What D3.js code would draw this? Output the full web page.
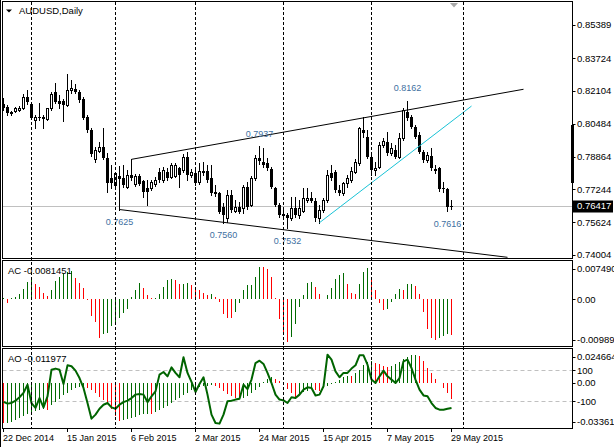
<!DOCTYPE html>
<html lang="en">
<head>
    <meta charset="UTF-8"/>
    <title>AUDUSD,Daily</title>
    <script src="https://d3js.org/d3.v7.min.js"></script>
    <style>
        body { margin: 0; background: #fff; }
        svg { display: block; font-family: "Liberation Sans", Arial, sans-serif; }
    </style>
</head>
<body>
<div id="chart"></div>

<script>

    // daily candles [open, high, low, close], 22 Dec 2014 .. 29 May 2015
    const ohlc = [
        [0.8144, 0.8174, 0.8116, 0.8125], [0.8133, 0.8141, 0.8092, 0.8100], [0.8108, 0.8112, 0.8092, 0.8097],
        [0.8113, 0.8133, 0.8105, 0.8125], [0.8118, 0.8135, 0.8112, 0.8128], [0.8125, 0.8197, 0.8120, 0.8180],
        [0.8180, 0.8215, 0.8145, 0.8158], [0.8144, 0.8150, 0.8070, 0.8078], [0.8068, 0.8090, 0.8030, 0.8082],
        [0.8082, 0.8151, 0.8066, 0.8075], [0.8082, 0.8090, 0.8026, 0.8070], [0.8070, 0.8128, 0.8065, 0.8125],
        [0.8125, 0.8207, 0.8118, 0.8196], [0.8207, 0.8248, 0.8150, 0.8158], [0.8161, 0.8191, 0.8125, 0.8145],
        [0.8161, 0.8170, 0.8062, 0.8141], [0.8141, 0.8293, 0.8138, 0.8215], [0.8215, 0.8265, 0.8200, 0.8225],
        [0.8220, 0.8243, 0.8200, 0.8207], [0.8207, 0.8215, 0.8158, 0.8166], [0.8171, 0.8180, 0.8070, 0.8079],
        [0.8083, 0.8090, 0.8010, 0.8017], [0.8020, 0.8026, 0.7890, 0.7900], [0.7875, 0.7935, 0.7861, 0.7919],
        [0.7914, 0.7960, 0.7909, 0.7935], [0.7935, 0.8026, 0.7873, 0.7880], [0.7878, 0.7902, 0.7713, 0.7754],
        [0.7779, 0.7845, 0.7730, 0.7754], [0.7746, 0.7812, 0.7740, 0.7804], [0.7790, 0.7838, 0.7625, 0.7775],
        [0.7779, 0.7845, 0.7738, 0.7746], [0.7738, 0.7820, 0.7730, 0.7796], [0.7796, 0.7873, 0.7771, 0.7783],
        [0.7750, 0.7800, 0.7740, 0.7791], [0.7791, 0.7800, 0.7745, 0.7750], [0.7766, 0.7771, 0.7689, 0.7710],
        [0.7733, 0.7770, 0.7648, 0.7710], [0.7730, 0.7770, 0.7720, 0.7763], [0.7749, 0.7785, 0.7740, 0.7771],
        [0.7812, 0.7828, 0.7763, 0.7771], [0.7771, 0.7837, 0.7763, 0.7820], [0.7812, 0.7828, 0.7770, 0.7779],
        [0.7787, 0.7853, 0.7779, 0.7845], [0.7791, 0.7853, 0.7785, 0.7845], [0.7828, 0.7837, 0.7738, 0.7796],
        [0.7820, 0.7898, 0.7812, 0.7886], [0.7886, 0.7907, 0.7771, 0.7796], [0.7796, 0.7825, 0.7788, 0.7809],
        [0.7804, 0.7820, 0.7746, 0.7754], [0.7759, 0.7853, 0.7750, 0.7815], [0.7815, 0.7861, 0.7796, 0.7804],
        [0.7815, 0.7845, 0.7763, 0.7771], [0.7779, 0.7845, 0.7697, 0.7705], [0.7713, 0.7746, 0.7692, 0.7700],
        [0.7705, 0.7713, 0.7606, 0.7614], [0.7639, 0.7656, 0.7560, 0.7598], [0.7582, 0.7721, 0.7565, 0.7697],
        [0.7697, 0.7721, 0.7614, 0.7622], [0.7619, 0.7672, 0.7614, 0.7639], [0.7636, 0.7664, 0.7606, 0.7614],
        [0.7631, 0.7746, 0.7610, 0.7738], [0.7738, 0.7763, 0.7630, 0.7639], [0.7647, 0.7790, 0.7640, 0.7779],
        [0.7779, 0.7894, 0.7771, 0.7878], [0.7878, 0.7937, 0.7850, 0.7866], [0.7861, 0.7927, 0.7837, 0.7845],
        [0.7853, 0.7878, 0.7820, 0.7828], [0.7825, 0.7837, 0.7730, 0.7738], [0.7730, 0.7738, 0.7640, 0.7647],
        [0.7647, 0.7656, 0.7590, 0.7598], [0.7602, 0.7639, 0.7582, 0.7594], [0.7598, 0.7610, 0.7532, 0.7582],
        [0.7582, 0.7689, 0.7574, 0.7631], [0.7631, 0.7689, 0.7590, 0.7598], [0.7598, 0.7672, 0.7582, 0.7631],
        [0.7618, 0.7730, 0.7614, 0.7680], [0.7672, 0.7730, 0.7664, 0.7684], [0.7684, 0.7713, 0.7660, 0.7667],
        [0.7666, 0.7680, 0.7569, 0.7582], [0.7582, 0.7647, 0.7560, 0.7623], [0.7623, 0.7680, 0.7615, 0.7672],
        [0.7672, 0.7820, 0.7664, 0.7796], [0.7804, 0.7845, 0.7771, 0.7779], [0.7812, 0.7820, 0.7713, 0.7722],
        [0.7722, 0.7746, 0.7697, 0.7705], [0.7705, 0.7763, 0.7697, 0.7754], [0.7754, 0.7796, 0.7738, 0.7779],
        [0.7771, 0.7837, 0.7763, 0.7815], [0.7812, 0.7873, 0.7804, 0.7861], [0.7853, 0.8034, 0.7845, 0.8026],
        [0.8018, 0.8080, 0.7985, 0.8001], [0.7985, 0.8018, 0.7878, 0.7886], [0.7886, 0.7894, 0.7796, 0.7820],
        [0.7820, 0.7861, 0.7796, 0.7832], [0.7837, 0.7960, 0.7828, 0.7944], [0.7944, 0.7977, 0.7935, 0.7963],
        [0.7960, 0.8010, 0.7894, 0.7902], [0.7902, 0.7952, 0.7894, 0.7930], [0.7919, 0.7944, 0.7878, 0.7886],
        [0.7882, 0.8001, 0.7878, 0.7977], [0.7977, 0.8125, 0.7968, 0.8116], [0.8108, 0.8162, 0.8067, 0.8075],
        [0.8083, 0.8092, 0.8026, 0.8034], [0.8034, 0.8042, 0.7977, 0.7985], [0.7993, 0.8010, 0.7902, 0.7907],
        [0.7907, 0.7919, 0.7861, 0.7870], [0.7870, 0.7911, 0.7861, 0.7894], [0.7890, 0.7927, 0.7820, 0.7828],
        [0.7825, 0.7845, 0.7804, 0.7815], [0.7828, 0.7837, 0.7717, 0.7726], [0.7733, 0.7763, 0.7713, 0.7726],
        [0.7726, 0.7730, 0.7616, 0.7639], [0.7644, 0.7672, 0.7630, 0.76417]
    ];

    // Accelerator Oscillator
    const acValues = [
        0.00038, -0.00092, 0.00023, 0.00046, 0.00115, 0.00246, 0.00408, 0.00500, 0.00362, 0.00285,
        0.00138, 0.00069, 0.00215, 0.00423, 0.00515, 0.00592, 0.00631, 0.00654, 0.00485, 0.00385,
        0.00269, -0.00015, -0.00385, -0.00523, -0.00885, -0.00808, -0.00769, -0.00615, -0.00523, -0.00423,
        -0.00308, -0.00215, 0.00062, 0.00215, 0.00385, 0.00254, 0.00100, 0.00023, 0.00038, 0.00115,
        0.00292, 0.00446, 0.00477, 0.00446, 0.00346, 0.00362, 0.00369, 0.00323, 0.00215, 0.00208,
        0.00154, 0.00100, 0.00131, 0.00054, -0.00054, -0.00331, -0.00423, -0.00431, -0.00285, -0.00077,
        0.00208, 0.00323, 0.00331, 0.00523, 0.00749, 0.00746, 0.00708, 0.00523, 0.00038, -0.00462,
        -0.00808, -0.00989, -0.00862, -0.00577, -0.00177, 0.00092, 0.00385, 0.00408, 0.00292, 0.00131,
        0.00015, 0.00092, 0.00269, 0.00477, 0.00562, 0.00600, 0.00362, 0.00154, 0.00115, 0.00346,
        0.00638, 0.00731, 0.00523, 0.00208, -0.00077, -0.00254, -0.00231, -0.00054, 0.00131, 0.00231,
        0.00215, 0.00346, 0.00354, 0.00308, 0.00131, -0.00285, -0.00692, -0.00885, -0.00946, -0.00885,
        -0.00846, -0.00800, -0.00815
    ];

    // Awesome Oscillator
    const aoValues = [
        -0.03078, -0.03028, -0.02952, -0.02826, -0.02675, -0.02523, -0.02397, -0.02271, -0.02170, -0.02094,
        -0.02019, -0.02069, -0.01716, -0.01464, -0.01211, -0.00959, -0.00757, -0.00555, -0.00429, -0.00328,
        -0.00303, -0.00379, -0.00555, -0.00807, -0.01060, -0.01312, -0.01640, -0.02019, -0.02523, -0.02902,
        -0.02851, -0.02776, -0.02675, -0.02574, -0.02473, -0.02397, -0.02347, -0.02372, -0.02195, -0.02094,
        -0.01943, -0.01766, -0.01564, -0.01337, -0.01136, -0.00959, -0.00757, -0.00580, -0.00429, -0.00328,
        -0.00252, -0.00227, -0.00202, -0.00252, -0.00379, -0.00631, -0.00833, -0.01009, -0.01161, -0.01262,
        -0.01186, -0.01009, -0.00807, -0.00555, -0.00303, 0.00050, 0.00252, 0.00404, 0.00303, 0.00101,
        -0.00202, -0.00505, -0.00807, -0.01060, -0.00959, -0.00707, -0.00606, -0.00505, -0.00555, -0.00606,
        -0.00404, -0.00252, -0.00101, 0.00076, 0.00202, 0.00404, 0.00505, 0.00479, 0.00707, 0.00959,
        0.01312, 0.01590, 0.01640, 0.01514, 0.01388, 0.01262, 0.01186, 0.01262, 0.01388, 0.01590,
        0.01766, 0.01943, 0.02069, 0.02094, 0.01993, 0.01640, 0.01136, 0.00757, 0.00303, 0.00000,
        -0.00379, -0.00757, -0.01198
    ];

    // CCI drawn in the AO window
    const cciValues = [
        -104, -115, -111, -96, -74, -46, 7, -111, -143, -79,
        -139, -68, 104, 111, 104, 12, 132, 126, 98, 50,
        -14, -111, -212, -186, -148, -122, -111, -139, -148, -122,
        -105, -96, -79, -57, -53, -57, -105, -68, -36, 72,
        89, 61, 119, 83, 55, 184, 83, 25, -40, 12,
        55, -57, -186, -240, -244, -186, -100, -96, -89, -83,
        7, -21, 40, 147, 162, 141, 83, 18, -57, -89,
        -94, -111, -74, -79, -57, -25, -10, -14, -62, -57,
        -3, 201, 169, 93, 55, 83, 83, 111, 132, 197,
        197, 136, 40, 18, 61, 98, 61, 40, 18, 50,
        158, 169, 115, 40, -25, -62, -68, -111, -143, -154,
        -154, -148, -143
    ];

    const dateLabels = ["22 Dec 2014", "15 Jan 2015", "6 Feb 2015", "2 Mar 2015",
        "24 Mar 2015", "15 Apr 2015", "7 May 2015", "29 May 2015"];
    const dateLabelBars = [0, 16, 32, 48, 64, 80, 96, 112];

    // first bar of each month (period separators)
    const separatorBars = [7, 28, 48, 70, 92, 115];

    const priceTicks = [0.85389, 0.83724, 0.82104, 0.80484, 0.78864, 0.77244, 0.75624, 0.74004];
    const lastPrice = 0.76417;

    const acTicks = [0.00749, 0, -0.00989];
    const acTickLabels = ["0.007490", "0.00", "-0.00989"];
    const aoTicks = [0.024664, 0, -0.03361];
    const aoTickLabels = ["0.024664", "0.00", "-0.03361"];
    const cciLevels = [100, -100];

    // drawn objects: [bar, price] -> [bar, price]
    const channelLines = [
        [[32, 0.7873], [130, 0.8219]],
        [[29, 0.7625], [126, 0.7389]]
    ];
    const cyanLine = [[79, 0.7560], [117, 0.8136]];

    // swing labels: bar, price, above (1) / below (-1)
    const swingLabels = [
        [29, 0.7625, -1], [32 + 32, 0.7937, 1], [55, 0.7560, -1],
        [71, 0.7532, -1], [101, 0.8162, 1], [111, 0.7616, -1]
    ];

    const width = 614, height = 447;
    const left = 2.5, right = 572.5;
    const panels = {
        main: {top: 1.5, bottom: 258.5},
        ac: {top: 260.5, bottom: 346.5},
        ao: {top: 348.5, bottom: 428.5}
    };
    const green = "#006a00", red = "#ff0000";

    const svg = d3.select("#chart")
        .append("svg")
        .attr("width", width)
        .attr("height", height);

    svg.append("rect").attr("width", width).attr("height", height).attr("fill", "#fff");

    const x = d3.scaleLinear().domain([0, 112]).range([3.5, 451.5]);
    const y = d3.scaleLinear().domain([0.74004, 0.85389]).range([255, 24.5]);
    const yAC = d3.scaleLinear().domain([-0.00989, 0.00749]).range([342.3, 267]);
    const yAO = d3.scaleLinear().domain([-0.03361, 0.024664]).range([427.2, 350.2]);
    const yCCI = d3.scaleLinear().domain([-100, 100]).range([401.3, 370.3]);

    // clip paths for each window
    const defs = svg.append("defs");
    Object.entries(panels).forEach(([name, p]) => {
        defs.append("clipPath").attr("id", "clip-" + name)
            .append("rect")
            .attr("x", left).attr("y", p.top)
            .attr("width", right - left).attr("height", p.bottom - p.top);
    });

    const gMain = svg.append("g").attr("clip-path", "url(#clip-main)");
    const gAC = svg.append("g").attr("clip-path", "url(#clip-ac)");
    const gAO = svg.append("g").attr("clip-path", "url(#clip-ao)");

    // month separators through every window
    svg.append("g")
        .selectAll("line")
        .data(separatorBars)
        .join("line")
        .attr("x1", d => x(d)).attr("x2", d => x(d))
        .attr("y1", panels.main.top).attr("y2", panels.ao.bottom)
        .attr("stroke", "#000")
        .attr("stroke-dasharray", "3,2")
        .attr("shape-rendering", "crispEdges");

    // bid line
    gMain.append("line")
        .attr("x1", left).attr("x2", right)
        .attr("y1", Math.round(y(lastPrice)) + 0.5).attr("y2", Math.round(y(lastPrice)) + 0.5)
        .attr("stroke", "#c0c0c0");

    // candles
    const candles = gMain.append("g")
        .selectAll("g")
        .data(ohlc)
        .join("g");

    candles.append("line")
        .attr("x1", (d, i) => x(i)).attr("x2", (d, i) => x(i))
        .attr("y1", d => Math.round(y(d[1])))
        .attr("y2", d => Math.round(y(d[2])) + 1)
        .attr("stroke", "#000");

    candles.append("rect")
        .attr("x", (d, i) => d[3] >= d[0] ? x(i) - 1 : x(i) - 1.5)
        .attr("width", d => d[3] >= d[0] ? 2 : 3)
        .attr("y", d => d[3] >= d[0] ? Math.round(y(d[3])) + 0.5 : Math.round(y(d[0])))
        .attr("height", d => {
            const h = Math.abs(Math.round(y(d[0])) - Math.round(y(d[3])));
            return d[3] >= d[0] ? h : Math.max(h, 1);
        })
        .attr("fill", d => d[3] >= d[0] ? "#fff" : "#000")
        .attr("stroke", d => d[3] >= d[0] ? "#000" : "none");

    // channel and trend line
    const lineGen = d3.line().x(d => x(d[0])).y(d => y(d[1]));
    gMain.selectAll(".channel")
        .data(channelLines)
        .join("path")
        .attr("class", "channel")
        .attr("d", lineGen)
        .attr("fill", "none")
        .attr("stroke", "#000");

    gMain.append("path")
        .attr("d", lineGen(cyanLine))
        .attr("fill", "none")
        .attr("stroke", "#19c3d6");

    gMain.selectAll(".swing")
        .data(swingLabels)
        .join("text")
        .attr("class", "swing")
        .attr("x", d => x(d[0]))
        .attr("y", d => y(d[1]) - d[2] * 12.5)
        .attr("dy", "0.35em")
        .attr("text-anchor", "middle")
        .style("font-size", "9px")
        .style("fill", "#41709f")
        .text(d => d[1].toFixed(4));

    // AC histogram
    const barColor = (values, firstUp) => (v, i) =>
        (i === 0 ? firstUp : v > values[i - 1]) ? green : red;

    gAC.append("g")
        .selectAll("line")
        .data(acValues)
        .join("line")
        .attr("x1", (d, i) => x(i)).attr("x2", (d, i) => x(i))
        .attr("y1", Math.round(yAC(0)))
        .attr("y2", d => Math.round(yAC(d)))
        .attr("stroke", barColor(acValues, true))
        .attr("shape-rendering", "crispEdges");

    // AO histogram, CCI levels and CCI line
    gAO.append("g")
        .selectAll("line")
        .data(cciLevels)
        .join("line")
        .attr("x1", left).attr("x2", right)
        .attr("y1", d => Math.round(yCCI(d)) + 0.5).attr("y2", d => Math.round(yCCI(d)) + 0.5)
        .attr("stroke", "#c0c0c0")
        .attr("stroke-dasharray", "4,3");

    gAO.append("g")
        .selectAll("line")
        .data(aoValues)
        .join("line")
        .attr("x1", (d, i) => x(i)).attr("x2", (d, i) => x(i))
        .attr("y1", Math.round(yAO(0)))
        .attr("y2", d => Math.round(yAO(d)))
        .attr("stroke", barColor(aoValues, false))
        .attr("shape-rendering", "crispEdges");

    gAO.append("path")
        .attr("d", d3.line().x((d, i) => x(i)).y(d => yCCI(d))(cciValues))
        .attr("fill", "none")
        .attr("stroke", "#006400")
        .attr("stroke-width", 2)
        .attr("stroke-linejoin", "round");

    // window frames
    svg.append("line").attr("x1", 0.5).attr("x2", 0.5).attr("y1", 0).attr("y2", height).attr("stroke", "#000");
    Object.values(panels).forEach(p => {
        svg.append("rect")
            .attr("x", left).attr("y", p.top)
            .attr("width", right - left).attr("height", p.bottom - p.top)
            .attr("fill", "none").attr("stroke", "#000");
    });
    svg.append("rect").attr("x", 571).attr("y", 125).attr("width", 3).attr("height", 58).attr("fill", "#000");

    // titles
    svg.append("path").attr("d", "M6,9.5 L12,9.5 L9,12.5 Z").attr("fill", "#000");
    svg.append("text").attr("x", 19).attr("y", 14).style("font-size", "9.5px").text("AUDUSD,Daily");
    svg.append("text").attr("x", 8).attr("y", 274).style("font-size", "9.5px").text("AC -0.0081451");
    svg.append("text").attr("x", 8).attr("y", 361.5).style("font-size", "9.5px").text("AO -0.011977");
    svg.append("path").attr("d", "M450,3 L458,3 L454,7.5 Z").attr("fill", "#a8a8a8");

    // right scales
    function rightLabels(values, labels, scale, p) {
        const g = svg.append("g");
        values.forEach((v, k) => {
            const yy = Math.max(p.top + 8, Math.min(p.bottom - 7, scale(v)));
            g.append("line")
                .attr("x1", right).attr("x2", right + 3)
                .attr("y1", Math.round(yy) + 0.5).attr("y2", Math.round(yy) + 0.5)
                .attr("stroke", "#000");
            g.append("text")
                .attr("x", 577).attr("y", yy).attr("dy", "0.35em")
                .style("font-size", "9.5px")
                .text(labels[k]);
        });
    }

    rightLabels(priceTicks, priceTicks.map(d => d.toFixed(5)), y, {top: -100, bottom: 1000});
    rightLabels(acTicks, acTickLabels, yAC, panels.ac);
    rightLabels(aoTicks, aoTickLabels, yAO, panels.ao);
    rightLabels(cciLevels, cciLevels.map(String), yCCI, panels.ao);

    // last price box
    svg.append("rect")
        .attr("x", 573).attr("y", Math.round(y(lastPrice)) - 5.5)
        .attr("width", 40).attr("height", 12)
        .attr("fill", "#000");
    svg.append("text")
        .attr("x", 577).attr("y", y(lastPrice)).attr("dy", "0.35em")
        .style("font-size", "9.5px").style("fill", "#fff")
        .text(lastPrice.toFixed(5));

    // time axis
    svg.append("g")
        .selectAll("line")
        .data(dateLabelBars)
        .join("line")
        .attr("x1", d => x(d)).attr("x2", d => x(d))
        .attr("y1", panels.ao.bottom).attr("y2", panels.ao.bottom + 3.5)
        .attr("stroke", "#000");

    svg.append("g")
        .selectAll("text")
        .data(dateLabelBars)
        .join("text")
        .attr("x", d => x(d) - 0.5)
        .attr("y", 441)
        .style("font-size", "9px")
        .text((d, k) => dateLabels[k]);

</script>
</body>
</html>
